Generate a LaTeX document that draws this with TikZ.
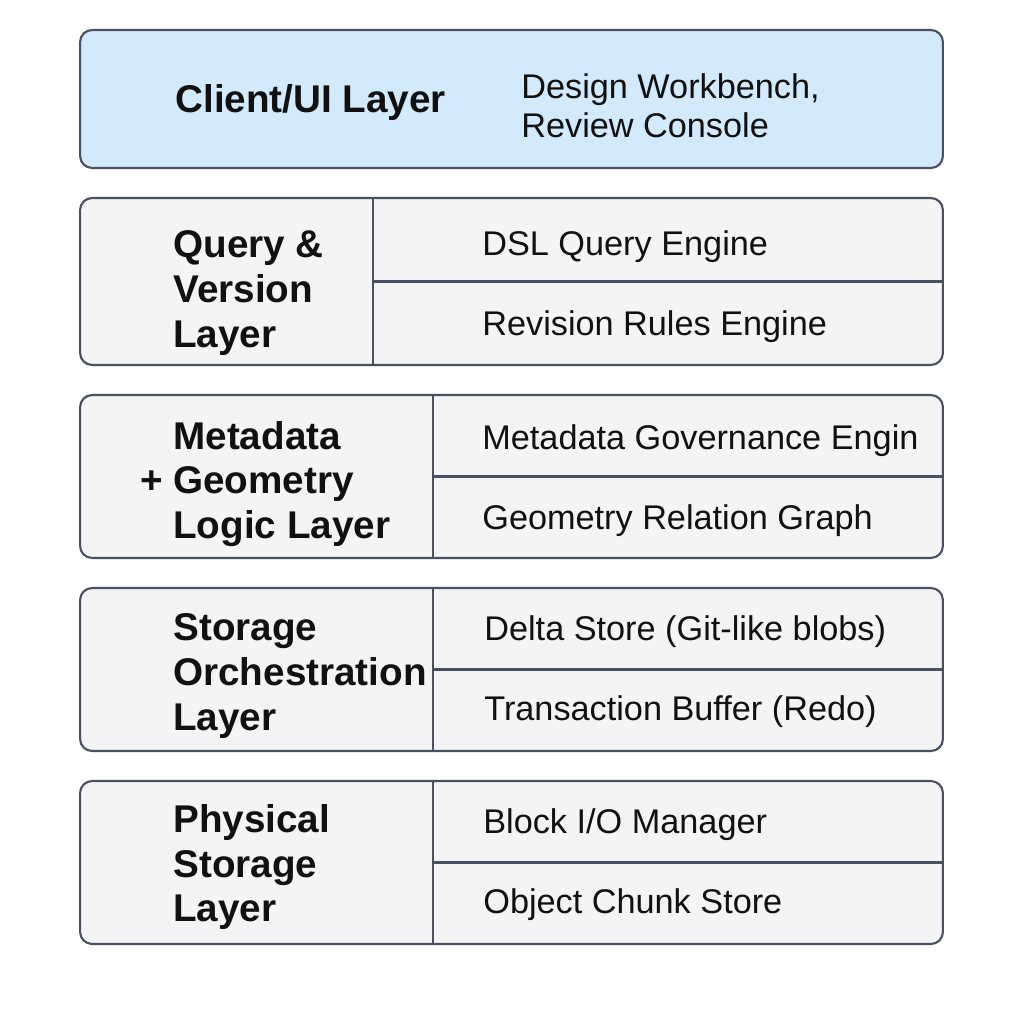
\documentclass[tikz,border=0pt]{standalone}
\usepackage{fontspec}
\setmainfont{Liberation Sans}
\definecolor{edgegray}{HTML}{4A5060}
\definecolor{uiblue}{HTML}{D3EAFC}
\definecolor{panelgray}{HTML}{F4F4F4}
\definecolor{inkblack}{HTML}{111111}
\tikzset{   layer/.style = {rectangle, rounded corners=0.24cm, draw = edgegray, line width=1.2pt, minimum width=17.26cm, inner sep=0pt},
            divider/.style = {draw = edgegray, line width=1.2pt},
            title/.style = {anchor=west, align=left, inner sep=0pt, text=inkblack, font=\fontsize{22}{25.5}\selectfont\bfseries},
            item/.style = {anchor=west, align=left, inner sep=0pt, text=inkblack, font=\fontsize{19.5}{22}\selectfont}}

\begin{document}
\begin{tikzpicture}[x=0.02cm, y=-0.02cm]
\fill[white] (0,0) rectangle (1024,1024);
\useasboundingbox (0,0) rectangle (1024,1024);

% layer boxes
\node[layer, fill=uiblue, minimum height=2.76cm] (client) at (511.5,99) {};
\node[layer, fill=panelgray, minimum height=3.34cm] (query) at (511.5,281.5) {};
\node[layer, fill=panelgray, minimum height=3.26cm] (meta) at (511.5,476.5) {};
\node[layer, fill=panelgray, minimum height=3.26cm] (store) at (511.5,669.5) {};
\node[layer, fill=panelgray, minimum height=3.26cm] (phys) at (511.5,862.5) {};

% column cuts
\coordinate (qcut) at (373,0);
\coordinate (lcut) at (433,0);
\draw[divider] (query.north -| qcut) -- (query.south -| qcut);
\draw[divider] (qcut |- query.center) -- (query.east);
\foreach \lyr in {meta, store, phys}
  {
  \draw[divider] (\lyr.north -| lcut) -- (\lyr.south -| lcut);
  \draw[divider] (lcut |- \lyr.center) -- (\lyr.east);
  }

% titles
\node[title] (clienttitle) at (175,103) {Client/UI Layer};
\node[title] (querytitle) at (173,293) {Query \&\\Version\\Layer};
\node[title] (metatitle) at (173,484) {Metadata\\\llap{+ }Geometry\\Logic Layer};
\node[title] (storetitle) at (173,676) {Storage\\Orchestration\\Layer};
\node[title] (phystitle) at (173,867) {Physical\\Storage\\Layer};

% components
\node[item] (console) at (521,106) {Design Workbench,\\Review Console};
\node[item] (dsl) at (482,247) {DSL Query Engine};
\node[item] (rules) at (482,327) {Revision Rules Engine};
\node[item] (govern) at (482,441) {Metadata Governance Engin};
\node[item] (graph) at (482,521) {Geometry Relation Graph};
\node[item] (delta) at (484,632) {Delta Store (Git-like blobs)};
\node[item] (redo) at (484,712) {Transaction Buffer (Redo)};
\node[item] (blockio) at (483,825) {Block I/O Manager};
\node[item] (chunks) at (483,905) {Object Chunk Store};
\end{tikzpicture}
\end{document}
